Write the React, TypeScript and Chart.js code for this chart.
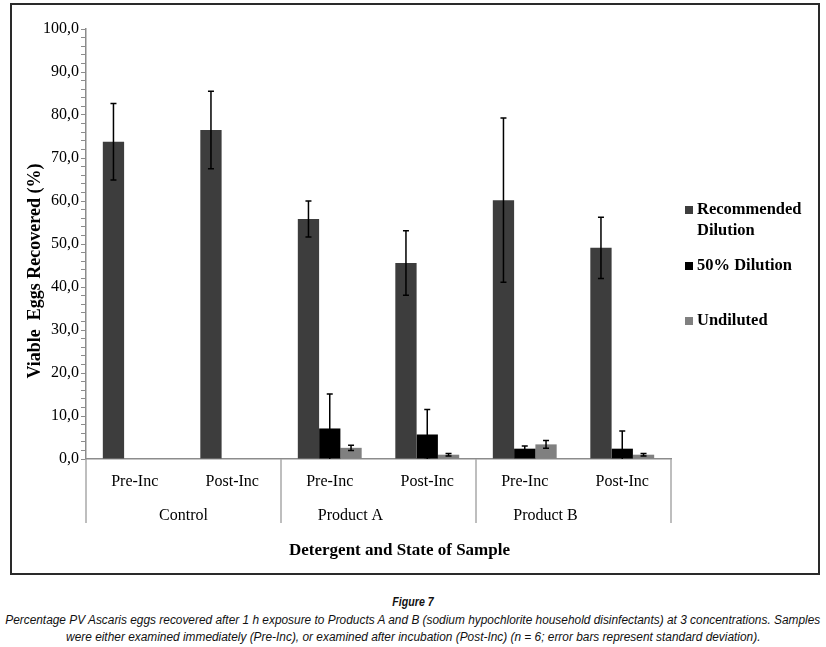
import React, { useEffect, useRef } from "react";
import { Chart, registerables } from "chart.js";

Chart.register(...registerables);

const subLabels = ["Pre-Inc", "Post-Inc", "Pre-Inc", "Post-Inc", "Pre-Inc", "Post-Inc"];
const groupLabels = ["Control", "Product A", "Product B"];
const legendLines = [["Recommended", "Dilution"], ["50% Dilution"], ["Undiluted"]];

const recommended = [73.8, 76.5, 55.8, 45.6, 60.2, 49.1];
const recommendedSD = [8.9, 9.0, 4.2, 7.5, 19.1, 7.1];
const dilution50 = [null, null, 7.1, 5.7, 2.4, 2.4];
const dilution50SD = [null, null, 8.0, 5.8, 0.6, 4.1];
const undiluted = [null, null, 2.6, 1.0, 3.4, 1.0];
const undilutedSD = [null, null, 0.6, 0.3, 0.9, 0.3];

const yMin = 0;
const yMax = 100;
const yMajorStep = 10;
const yMinorStep = 2;

const colors = ["#3d3d3d", "#000000", "#808080"];
const SERIF = "'Liberation Serif', 'Times New Roman', serif";

const errorsByDataset = [recommendedSD, dilution50SD, undilutedSD];

const extrasPlugin = {
  id: "extras",
  afterDatasetsDraw(chart: any) {
    const ctx = chart.ctx;
    const ys = chart.scales.y;
    const area = chart.chartArea;
    ctx.save();
    ctx.beginPath();
    ctx.rect(area.left, area.top - 2, area.right - area.left, area.bottom - area.top + 2);
    ctx.clip();
    ctx.strokeStyle = "#000";
    ctx.lineWidth = 1.5;
    chart.data.datasets.forEach((ds: any, i: number) => {
      const meta = chart.getDatasetMeta(i);
      const errs = errorsByDataset[i];
      meta.data.forEach((bar: any, j: number) => {
        const v = ds.data[j];
        const e = errs[j];
        if (v == null || e == null) return;
        const x = bar.x;
        const yt = ys.getPixelForValue(v + e);
        const yb = ys.getPixelForValue(v - e);
        ctx.beginPath();
        ctx.moveTo(x, yt);
        ctx.lineTo(x, yb);
        ctx.moveTo(x - 3, yt);
        ctx.lineTo(x + 3, yt);
        ctx.moveTo(x - 3, yb);
        ctx.lineTo(x + 3, yb);
        ctx.stroke();
      });
    });
    ctx.restore();
  },
  afterDraw(chart: any) {
    const ctx = chart.ctx;
    const xs = chart.scales.x;
    const area = chart.chartArea;
    ctx.save();
    // group separators
    ctx.strokeStyle = "#a8a8a8";
    ctx.lineWidth = 1.5;
    [-0.5, 1.5, 3.5, 5.5].forEach((v) => {
      const px = xs.getPixelForValue(v);
      ctx.beginPath();
      ctx.moveTo(px, area.bottom);
      ctx.lineTo(px, area.bottom + 64);
      ctx.stroke();
    });
    // legend
    ctx.font = `bold 16.5px ${SERIF}`;
    ctx.textBaseline = "middle";
    ctx.textAlign = "left";
    const legendTops = [181, 237, 292];
    legendLines.forEach((lines, i) => {
      const cy = area.top + legendTops[i];
      const bx = area.right + 14;
      ctx.fillStyle = colors[i];
      ctx.fillRect(bx, cy - 4, 8, 8);
      ctx.fillStyle = "#000";
      lines.forEach((t, k) => {
        ctx.fillText(t, bx + 12, cy + k * 21);
      });
    });
    // y title
    ctx.save();
    ctx.font = `bold 18px ${SERIF}`;
    ctx.textAlign = "center";
    ctx.textBaseline = "middle";
    ctx.fillStyle = "#000";
    ctx.translate(area.left - 51, (area.top + area.bottom) / 2 + 27);
    ctx.rotate(-Math.PI / 2);
    ctx.fillText("Viable  Eggs Recovered (%)", 0, 0);
    ctx.restore();
    // x title
    ctx.font = `bold 17px ${SERIF}`;
    ctx.textAlign = "center";
    ctx.textBaseline = "middle";
    ctx.fillStyle = "#000";
    ctx.fillText("Detergent and State of Sample", (area.left + area.right) / 2 + 21, area.bottom + 92);
    ctx.restore();
  },
};

export default function App() {
  const ref = useRef<HTMLCanvasElement | null>(null);
  const capRef = useRef<HTMLDivElement | null>(null);

  useEffect(() => {
    // fit the caption lines to the condensed width of the original
    const cap = capRef.current;
    if (cap) {
      const lines = Array.from(cap.querySelectorAll("span.capline")) as HTMLElement[];
      if (lines.length) {
        const w = lines[0].getBoundingClientRect().width;
        const s = w > 0 ? 815 / w : 1;
        lines.forEach((el) => {
          el.style.transform = `scaleX(${s})`;
        });
      }
    }
    if (!ref.current) return;
    const chart = new Chart(ref.current, {
      type: "bar",
      data: {
        labels: subLabels,
        datasets: [
          { label: legendLines[0].join(" "), data: recommended, backgroundColor: colors[0] },
          { label: legendLines[1].join(" "), data: dilution50 as any, backgroundColor: colors[1] },
          { label: legendLines[2].join(" "), data: undiluted as any, backgroundColor: colors[2] },
        ],
      },
      options: {
        responsive: false,
        animation: false,
        datasets: { bar: { barPercentage: 1, categoryPercentage: 0.655 } },
        layout: { padding: { top: 29, right: 155, bottom: 0, left: 0 } },
        plugins: { legend: { display: false }, tooltip: { enabled: false } },
        scales: {
          x: {
            type: "category",
            position: "bottom",
            offset: true,
            grid: { display: true, drawOnChartArea: false, drawTicks: false },
            border: { display: true, color: "#8c8c8c", width: 1.5 },
            ticks: {
              font: { family: SERIF, size: 16 },
              color: "#000",
              padding: 13,
              maxRotation: 0,
              autoSkip: false,
            },
            afterFit: (s: any) => {
              s.height = 30;
            },
          },
          x2: {
            type: "category",
            position: "bottom",
            labels: groupLabels,
            offset: true,
            grid: { display: false },
            border: { display: false },
            ticks: {
              font: { family: SERIF, size: 16 },
              color: "#000",
              padding: 9,
              maxRotation: 0,
              autoSkip: false,
              callback: (_v: any, i: number) =>
                i === 0 ? groupLabels[i] : groupLabels[i] + "\u2002".repeat(7),
            },
            afterFit: (s: any) => {
              s.height = 86;
            },
          },
          y: {
            min: yMin,
            max: yMax,
            grid: { display: true, drawOnChartArea: false, tickLength: 5, color: "#8c8c8c", tickWidth: 1 },
            border: { display: true, color: "#8c8c8c", width: 1.5 },
            ticks: {
              stepSize: yMinorStep,
              autoSkip: false,
              padding: 2,
              color: "#000",
              font: { family: SERIF, size: 16 },
              callback: (v: any) =>
                Math.round(Number(v)) % yMajorStep === 0 ? Number(v).toFixed(1).replace(".", ",") : "",
            },
            afterFit: (s: any) => {
              s.width = 86;
            },
          },
        },
      },
      plugins: [extrasPlugin],
    });
    return () => chart.destroy();
  }, []);

  const captionFont = "'Liberation Sans', Arial, sans-serif";
  const lineStyle: React.CSSProperties = {
    display: "inline-block",
    whiteSpace: "nowrap",
    transformOrigin: "center",
  };

  return (
    <div style={{ position: "relative", width: 826, height: 647, background: "#fff", overflow: "hidden" }}>
      <style>{`body{margin:0;}`}</style>
      <div
        style={{
          position: "absolute",
          left: 10,
          top: 3,
          width: 810,
          height: 572,
          border: "2px solid #2a2a2a",
          boxSizing: "border-box",
        }}
      />
      <canvas ref={ref} width={826} height={575} style={{ position: "absolute", left: 0, top: 0, width: 826, height: 575 }} />
      <div
        ref={capRef}
        style={{
          position: "absolute",
          top: 594,
          left: -100,
          width: 1026,
          textAlign: "center",
          fontFamily: captionFont,
          fontStyle: "italic",
          fontSize: 12.5,
          lineHeight: "17px",
          color: "#111",
        }}
      >
        <div style={{ fontWeight: "bold", fontSize: 12.5, marginBottom: 1, transform: "scaleX(0.85)" }}>Figure 7</div>
        <div>
          <span className="capline" style={lineStyle}>
            Percentage PV Ascaris eggs recovered after 1 h exposure to Products A and B (sodium hypochlorite household disinfectants) at 3 concentrations. Samples
          </span>
        </div>
        <div>
          <span className="capline" style={lineStyle}>
            were either examined immediately (Pre-Inc), or examined after incubation (Post-Inc) (n = 6; error bars represent standard deviation).
          </span>
        </div>
      </div>
    </div>
  );
}
